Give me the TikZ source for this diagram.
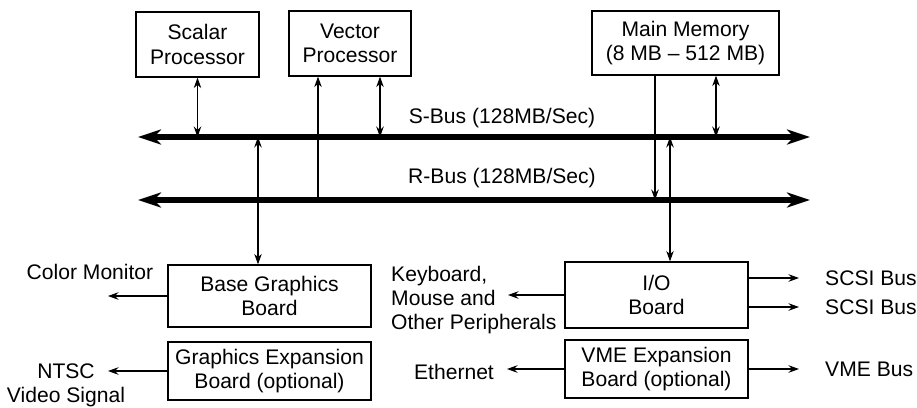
\documentclass[tikz,border=0pt]{standalone}
\usepackage{fontspec}
\setmainfont{Liberation Sans}
\usetikzlibrary{arrows.meta}
\tikzset{%
		bus/.style={draw,line width=3pt,{Stealth[length=4.6mm,width=3mm,inset=1.4mm]}-{Stealth[length=4.6mm,width=3mm,inset=1.4mm]}},
		link/.style={draw,line width=.6pt,>={Stealth[length=2.1mm,width=1.5mm]}},
		board/.style={draw,line width=.7pt,align=center,inner sep=0pt}
	}

\begin{document}
\begin{tikzpicture}[x=.2mm,y=-.2mm,font=\fontsize{12}{13.8}\selectfont]
    \useasboundingbox (0,0) rectangle (917,407);
    % S-Bus und R-Bus
    \coordinate (sL) at (138,137); \coordinate (sR) at (810,137);
    \coordinate (rL) at (138,200); \coordinate (rR) at (810,200);
    \draw[bus] (sL) -- (sR) ;
    \draw[bus] (rL) -- (rR) ;
    \node (sLab) at (502,118) {S-Bus (128MB/Sec)};
    \node (rLab) at (502,178) {R-Bus (128MB/Sec)};
    % Prozessoren und Speicher
    \node[board,minimum width=24.6mm,minimum height=13mm] (sp) at (197.5,44.5) {Scalar\\Processor};
    \node[board,minimum width=24.4mm,minimum height=13mm] (vp) at (350,43.5) {Vector\\Processor};
    \node[board,minimum width=37.4mm,minimum height=12.8mm] (mm) at (685.5,43) {Main Memory\\(8 MB -- 512 MB)};
    \coordinate (vpA) at ([xshift=-6.4mm]vp.south);
    \coordinate (vpB) at ([xshift=6mm]vp.south);
    \coordinate (mmA) at ([xshift=-6.1mm]mm.south);
    \coordinate (mmB) at ([xshift=6.1mm]mm.south);
    \draw[link,<->] (sp.south) -- (sp.south |- sL) ;
    \draw[link,->] (vpA |- rL) -- (vpA) ;
    \draw[link,<->] (vpB) -- (vpB |- sL) ;
    \draw[link,->] (mmA) -- (mmA |- rL) ;
    \draw[link,<->] (mmB) -- (mmB |- sL) ;
    % Boards
    \node[board,minimum width=40.6mm,minimum height=12.4mm] (bg) at (269.5,296) {Base Graphics\\Board};
    \node[board,minimum width=40.6mm,minimum height=11.6mm] (ge) at (269.5,371) {Graphics Expansion\\Board (optional)};
    \node[board,minimum width=36.6mm,minimum height=13.2mm] (io) at (656.5,295) {I/O\\Board};
    \node[board,minimum width=36.6mm,minimum height=11.6mm] (vme) at (656.5,369) {VME Expansion\\Board (optional)};
    \coordinate (bgA) at ([xshift=-2.3mm]bg.north);
    \coordinate (ioA) at ([xshift=2.7mm]io.north);
    \draw[link,<->] (bgA |- sL) -- (bgA) ;
    \draw[link,<->] (ioA |- sL) -- (ioA) ;
    % Ausgaenge links
    \coordinate (cmEnd) at (108,296);
    \coordinate (ntscEnd) at (108,371);
    \draw[link,->] (bg.west) -- (cmEnd) ;
    \draw[link,->] (ge.west) -- (ntscEnd) ;
    \node (cmLab) at (90,272) {Color Monitor};
    \node[align=center] (ntscLab) at (66,385) {NTSC\\Video Signal};
    \coordinate (kbEnd) at (508,295);
    \coordinate (ethEnd) at (507,369);
    \draw[link,->] (io.west) -- (kbEnd) ;
    \draw[link,->] (vme.west) -- (ethEnd) ;
    \node[align=left,anchor=west] (kbLab) at (385,300) {Keyboard,\\Mouse and\\Other Peripherals};
    \node (ethLab) at (454,372) {Ethernet};
    % Ausgaenge rechts
    \coordinate (scsiA) at (799,278);
    \coordinate (scsiB) at (799,307);
    \coordinate (vmeEnd) at (799,369);
    \draw[link,->] (io.east |- scsiA) -- (scsiA) ;
    \draw[link,->] (io.east |- scsiB) -- (scsiB) ;
    \draw[link,->] (vme.east) -- (vmeEnd) ;
    \node[anchor=west] (scsiALab) at (819,278) {SCSI Bus};
    \node[anchor=west] (scsiBLab) at (819,307) {SCSI Bus};
    \node[anchor=west] (vmeLab) at (819,369) {VME Bus};
\end{tikzpicture}
\end{document}
